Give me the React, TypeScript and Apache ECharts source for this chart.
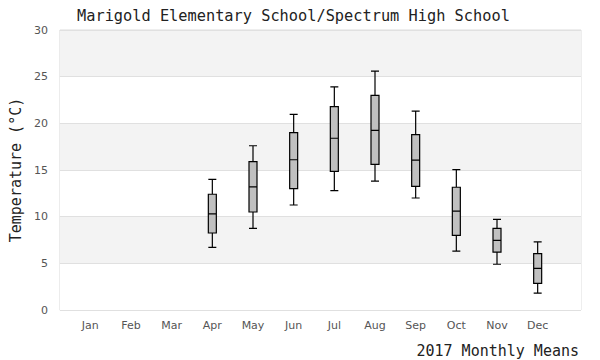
import React, { useEffect, useRef } from "react";
import * as echarts from "echarts";

const months = ["Jan", "Feb", "Mar", "Apr", "May", "Jun", "Jul", "Aug", "Sep", "Oct", "Nov", "Dec"];
// [min, Q1, median, Q3, max]; null = no data
const lowWhisker = [null, null, null, 6.7, 8.75, 11.25, 12.8, 13.8, 12.0, 6.3, 4.9, 1.8];
const q1 = [null, null, null, 8.25, 10.5, 13.0, 14.85, 15.6, 13.25, 8.0, 6.2, 2.85];
const median = [null, null, null, 10.3, 13.2, 16.1, 18.4, 19.25, 16.05, 10.6, 7.45, 4.45];
const q3 = [null, null, null, 12.4, 15.9, 19.0, 21.8, 23.0, 18.8, 13.15, 8.75, 6.05];
const highWhisker = [null, null, null, 14.0, 17.6, 20.95, 23.9, 25.6, 21.3, 15.05, 9.7, 7.3];
const yTicks = [0, 5, 10, 15, 20, 25, 30];

export default function App() {
  const ref = useRef<HTMLDivElement>(null);
  useEffect(() => {
    if (!ref.current) return;
    const chart = echarts.init(ref.current, null, { renderer: "svg" });
    const boxData = months.map((_, i) =>
      lowWhisker[i] === null
        ? ["-", "-", "-", "-", "-"]
        : [lowWhisker[i], q1[i], median[i], q3[i], highWhisker[i]]
    );
    const yMin = yTicks[0];
    const yMax = yTicks[yTicks.length - 1];
    chart.setOption({
      animation: false,
      backgroundColor: "#fff",
      title: [
        {
          text: "Marigold Elementary School/Spectrum High School",
          left: 72,
          top: 3,
          textStyle: { fontFamily: "DejaVu Sans Mono", fontSize: 15.3, fontWeight: "normal", color: "#222" },
        },
        {
          text: "2017 Monthly Means",
          right: 16,
          top: 338,
          textStyle: { fontFamily: "DejaVu Sans Mono", fontSize: 15, fontWeight: "normal", color: "#222" },
        },
      ],
      grid: [
        {
          left: 51,
          right: 19,
          top: 30,
          bottom: 50,
          show: true,
          borderColor: "#dddddd",
          borderWidth: 1,
          backgroundColor: "transparent",
        },
        {
          left: 70,
          right: 42,
          top: 30,
          bottom: 50,
        },
      ],
      xAxis: [
        {
          type: "category",
          gridIndex: 0,
          data: months,
          show: false,
        },
        {
          type: "category",
          gridIndex: 1,
          data: months,
          boundaryGap: true,
          axisLine: { show: false },
          axisTick: { show: false },
          splitLine: { show: false },
          axisLabel: { fontFamily: "DejaVu Sans", fontSize: 11, color: "#555", margin: 10 },
        },
      ],
      yAxis: [
        {
          type: "value",
          gridIndex: 0,
          min: yMin,
          max: yMax,
          interval: 5,
          name: "Temperature (°C)",
          nameLocation: "middle",
          nameGap: 24,
          nameTextStyle: { fontFamily: "DejaVu Sans Mono", fontSize: 15, color: "#222" },
          axisLine: { show: false },
          axisTick: { show: false },
          axisLabel: { fontFamily: "DejaVu Sans", fontSize: 11, color: "#555", margin: 12 },
          splitLine: { show: true, lineStyle: { color: "#e0e0e0", width: 1 } },
          splitArea: { show: true, areaStyle: { color: ["#ffffff", "#f3f3f3"] } },
        },
        {
          type: "value",
          gridIndex: 1,
          min: yMin,
          max: yMax,
          interval: 5,
          show: false,
          splitLine: { show: false },
        },
      ],
      series: [
        {
          type: "boxplot",
          xAxisIndex: 1,
          yAxisIndex: 1,
          data: boxData,
          boxWidth: [8, 8],
          itemStyle: { color: "#c0c0c0", borderColor: "#000", borderWidth: 1.2 },
        },
      ],
    });
    return () => chart.dispose();
  }, []);
  return <div ref={ref} style={{ position: "absolute", left: 0, top: 0, width: 600, height: 360 }} />;
}
